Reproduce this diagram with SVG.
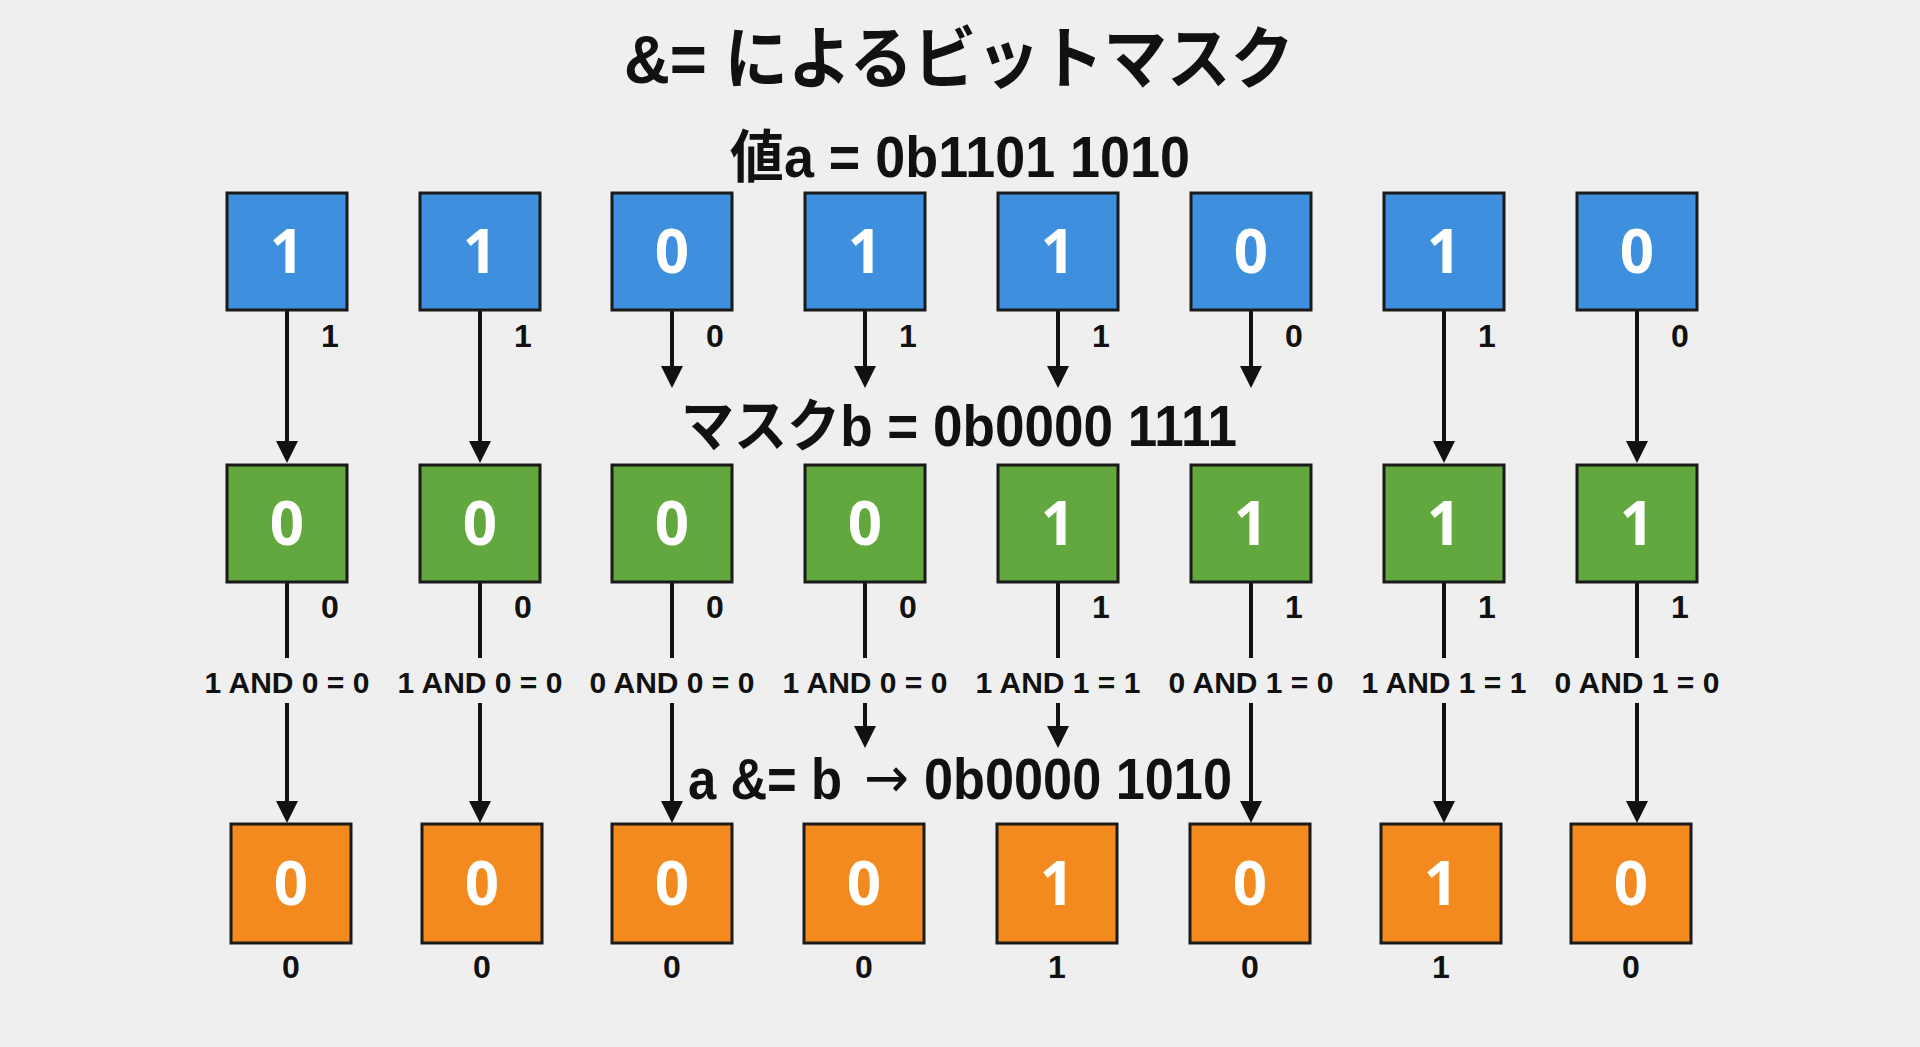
<svg xmlns="http://www.w3.org/2000/svg" width="1920" height="1047" viewBox="0 0 1920 1047">
<defs>
<style>
.bg{fill:#efefef}
.box{stroke:#1a1a1a;stroke-width:3}
.blue{fill:#3f8fdf}
.green{fill:#62a83e}
.orange{fill:#f28a1f}
.dig{font-family:"Open Sans","Liberation Sans",sans-serif;font-weight:700;font-size:60px;fill:#ffffff;text-anchor:middle}
.lbl{font-family:"Liberation Sans",Arial,sans-serif;font-weight:700;font-size:32px;fill:#111111;text-anchor:middle}
.op{font-family:"Liberation Sans",Arial,sans-serif;font-weight:700;font-size:30px;fill:#111111;text-anchor:middle}
.big{font-family:"Liberation Sans","Noto Sans CJK JP",sans-serif;font-weight:700;font-size:57px;fill:#111111;text-anchor:middle}
.bigs{font-family:"Liberation Sans","Noto Sans CJK JP",sans-serif;font-weight:700;font-size:57px;fill:#111111;text-anchor:start}
.title{font-family:"Liberation Sans","Noto Sans CJK JP",sans-serif;font-weight:700;font-size:68px;fill:#111111;text-anchor:middle}
.arw{font-family:"DejaVu Sans",sans-serif;font-weight:400;font-size:57px;fill:#111111;text-anchor:start}
.ln{stroke:#111111;stroke-width:4;fill:none}
.ar{stroke:#111111;stroke-width:4;fill:none;marker-end:url(#ah)}
</style>
<marker id="ah" viewBox="0 0 22 22" refX="18" refY="11" markerWidth="22" markerHeight="22" markerUnits="userSpaceOnUse" orient="auto">
<path d="M0,0 L22,11 L0,22 z" fill="#111111"/>
</marker>
</defs>
<rect class="bg" x="0" y="0" width="1920" height="1047"/>

<g id="titles">
<text class="title" x="959" y="83" textLength="670" lengthAdjust="spacingAndGlyphs">&amp;= によるビットマスク</text>
<text class="big" x="960" y="177" textLength="460" lengthAdjust="spacingAndGlyphs">値a = 0b1101 1010</text>
<text class="big" x="959" y="446" textLength="556" lengthAdjust="spacingAndGlyphs">マスクb = 0b0000 1111</text>
<text class="bigs" x="688" y="799" textLength="154" lengthAdjust="spacingAndGlyphs">a &amp;= b</text>
<text class="arw" x="864" y="797" textLength="45" lengthAdjust="spacingAndGlyphs">→</text>
<text class="bigs" x="924" y="799" textLength="308" lengthAdjust="spacingAndGlyphs">0b0000 1010</text>
</g>

<g id="connectors">
<line class="ar" x1="287" y1="311" x2="287" y2="459"/>
<line class="ar" x1="480" y1="311" x2="480" y2="459"/>
<line class="ar" x1="672" y1="311" x2="672" y2="384"/>
<line class="ar" x1="865" y1="311" x2="865" y2="384"/>
<line class="ar" x1="1058" y1="311" x2="1058" y2="384"/>
<line class="ar" x1="1251" y1="311" x2="1251" y2="384"/>
<line class="ar" x1="1444" y1="311" x2="1444" y2="459"/>
<line class="ar" x1="1637" y1="311" x2="1637" y2="459"/>
<line class="ln" x1="287" y1="582" x2="287" y2="658"/>
<line class="ln" x1="480" y1="582" x2="480" y2="658"/>
<line class="ln" x1="672" y1="582" x2="672" y2="658"/>
<line class="ln" x1="865" y1="582" x2="865" y2="658"/>
<line class="ln" x1="1058" y1="582" x2="1058" y2="658"/>
<line class="ln" x1="1251" y1="582" x2="1251" y2="658"/>
<line class="ln" x1="1444" y1="582" x2="1444" y2="658"/>
<line class="ln" x1="1637" y1="582" x2="1637" y2="658"/>
<line class="ar" x1="287" y1="703" x2="287" y2="819"/>
<line class="ar" x1="480" y1="703" x2="480" y2="819"/>
<line class="ar" x1="672" y1="703" x2="672" y2="819"/>
<line class="ar" x1="865" y1="703" x2="865" y2="744"/>
<line class="ar" x1="1058" y1="703" x2="1058" y2="744"/>
<line class="ar" x1="1251" y1="703" x2="1251" y2="819"/>
<line class="ar" x1="1444" y1="703" x2="1444" y2="819"/>
<line class="ar" x1="1637" y1="703" x2="1637" y2="819"/>
</g>

<g id="a-bits">
<g id="a7"><rect class="box blue" x="227" y="193" width="120" height="117"/><text class="dig" x="287" y="273">1</text><text class="lbl" x="330" y="347">1</text></g>
<g id="a6"><rect class="box blue" x="420" y="193" width="120" height="117"/><text class="dig" x="480" y="273">1</text><text class="lbl" x="523" y="347">1</text></g>
<g id="a5"><rect class="box blue" x="612" y="193" width="120" height="117"/><text class="dig" x="672" y="273">0</text><text class="lbl" x="715" y="347">0</text></g>
<g id="a4"><rect class="box blue" x="805" y="193" width="120" height="117"/><text class="dig" x="865" y="273">1</text><text class="lbl" x="908" y="347">1</text></g>
<g id="a3"><rect class="box blue" x="998" y="193" width="120" height="117"/><text class="dig" x="1058" y="273">1</text><text class="lbl" x="1101" y="347">1</text></g>
<g id="a2"><rect class="box blue" x="1191" y="193" width="120" height="117"/><text class="dig" x="1251" y="273">0</text><text class="lbl" x="1294" y="347">0</text></g>
<g id="a1"><rect class="box blue" x="1384" y="193" width="120" height="117"/><text class="dig" x="1444" y="273">1</text><text class="lbl" x="1487" y="347">1</text></g>
<g id="a0"><rect class="box blue" x="1577" y="193" width="120" height="117"/><text class="dig" x="1637" y="273">0</text><text class="lbl" x="1680" y="347">0</text></g>
</g>

<g id="b-bits">
<g id="b7"><rect class="box green" x="227" y="465" width="120" height="117"/><text class="dig" x="287" y="545">0</text><text class="lbl" x="330" y="618">0</text><text class="op" x="287" y="693">1 AND 0 = 0</text></g>
<g id="b6"><rect class="box green" x="420" y="465" width="120" height="117"/><text class="dig" x="480" y="545">0</text><text class="lbl" x="523" y="618">0</text><text class="op" x="480" y="693">1 AND 0 = 0</text></g>
<g id="b5"><rect class="box green" x="612" y="465" width="120" height="117"/><text class="dig" x="672" y="545">0</text><text class="lbl" x="715" y="618">0</text><text class="op" x="672" y="693">0 AND 0 = 0</text></g>
<g id="b4"><rect class="box green" x="805" y="465" width="120" height="117"/><text class="dig" x="865" y="545">0</text><text class="lbl" x="908" y="618">0</text><text class="op" x="865" y="693">1 AND 0 = 0</text></g>
<g id="b3"><rect class="box green" x="998" y="465" width="120" height="117"/><text class="dig" x="1058" y="545">1</text><text class="lbl" x="1101" y="618">1</text><text class="op" x="1058" y="693">1 AND 1 = 1</text></g>
<g id="b2"><rect class="box green" x="1191" y="465" width="120" height="117"/><text class="dig" x="1251" y="545">1</text><text class="lbl" x="1294" y="618">1</text><text class="op" x="1251" y="693">0 AND 1 = 0</text></g>
<g id="b1"><rect class="box green" x="1384" y="465" width="120" height="117"/><text class="dig" x="1444" y="545">1</text><text class="lbl" x="1487" y="618">1</text><text class="op" x="1444" y="693">1 AND 1 = 1</text></g>
<g id="b0"><rect class="box green" x="1577" y="465" width="120" height="117"/><text class="dig" x="1637" y="545">1</text><text class="lbl" x="1680" y="618">1</text><text class="op" x="1637" y="693">0 AND 1 = 0</text></g>
</g>

<g id="r-bits">
<g id="r7"><rect class="box orange" x="231" y="824" width="120" height="119"/><text class="dig" x="291" y="905">0</text><text class="lbl" x="291" y="978">0</text></g>
<g id="r6"><rect class="box orange" x="422" y="824" width="120" height="119"/><text class="dig" x="482" y="905">0</text><text class="lbl" x="482" y="978">0</text></g>
<g id="r5"><rect class="box orange" x="612" y="824" width="120" height="119"/><text class="dig" x="672" y="905">0</text><text class="lbl" x="672" y="978">0</text></g>
<g id="r4"><rect class="box orange" x="804" y="824" width="120" height="119"/><text class="dig" x="864" y="905">0</text><text class="lbl" x="864" y="978">0</text></g>
<g id="r3"><rect class="box orange" x="997" y="824" width="120" height="119"/><text class="dig" x="1057" y="905">1</text><text class="lbl" x="1057" y="978">1</text></g>
<g id="r2"><rect class="box orange" x="1190" y="824" width="120" height="119"/><text class="dig" x="1250" y="905">0</text><text class="lbl" x="1250" y="978">0</text></g>
<g id="r1"><rect class="box orange" x="1381" y="824" width="120" height="119"/><text class="dig" x="1441" y="905">1</text><text class="lbl" x="1441" y="978">1</text></g>
<g id="r0"><rect class="box orange" x="1571" y="824" width="120" height="119"/><text class="dig" x="1631" y="905">0</text><text class="lbl" x="1631" y="978">0</text></g>
</g>
</svg>
